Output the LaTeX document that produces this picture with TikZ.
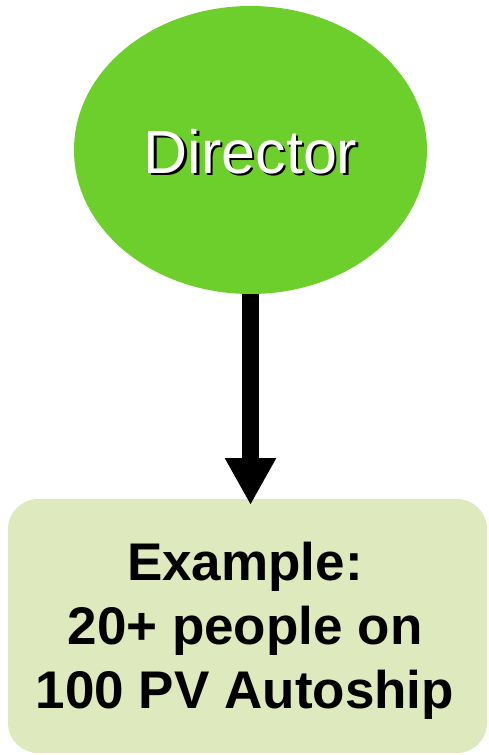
\documentclass[tikz,border=0pt]{standalone}
\usepackage{fontspec}
\setmainfont{Liberation Sans}
\usetikzlibrary{arrows.meta,shapes.geometric}
\definecolor{dirgreen}{RGB}{108,207,43}
\definecolor{boxgreen}{RGB}{223,233,190}
\newcommand{\shadowtext}[1]{\makebox[0pt][l]{\hspace{2.3pt}\raisebox{-2.3pt}{\color{black}#1}}\textcolor{white}{#1}}
\begin{document}
\begin{tikzpicture}[x=1pt,y=1pt,
  dirfont/.style={font=\fontsize{61}{73}\selectfont, inner sep=0pt, anchor=base},
  boxfont/.style={font=\bfseries\fontsize{53}{64}\selectfont, align=center, inner sep=0pt},
  flow/.style={line width=17pt, -{Triangle[width=48pt,length=47pt]}}]
\useasboundingbox (0,0) rectangle (488,-755);
\node[ellipse, fill=dirgreen, minimum width=353pt, minimum height=288pt, inner sep=0pt, outer sep=0pt] (dir) at (250.5,-150) {};
\node[dirfont] (dirlabel) at (250.5,-173) {\shadowtext{Director}};
\node[rounded corners=30pt, fill=boxgreen, minimum width=479pt, minimum height=254pt, inner sep=0pt, outer sep=0pt] (box) at (247.5,-626) {};
\node[boxfont] (boxtext) at (245,-631) {Example:\\20+ people on\\100 PV Autoship};
\coordinate (tip) at (250.5,-505);
\draw[flow] (dir.south) -- (tip);
\end{tikzpicture}
\end{document}
